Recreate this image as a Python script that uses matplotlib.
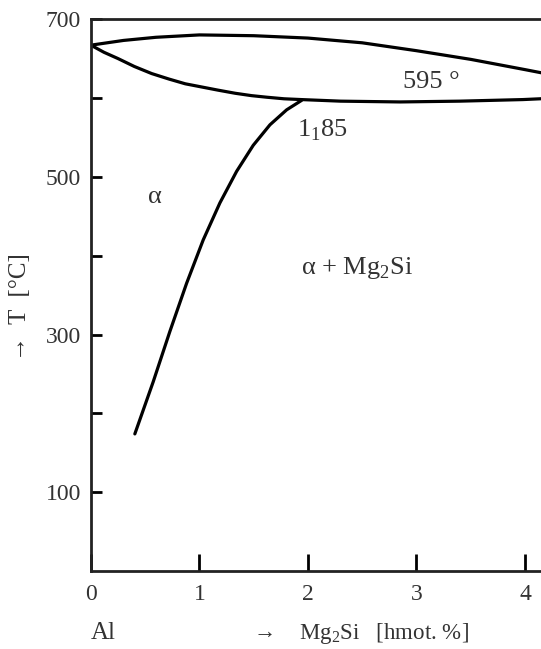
import numpy as np
from matplotlib import pyplot as plt

plt.rcParams['font.family'] = ['Liberation Serif', 'DejaVu Serif']
plt.rcParams['mathtext.fontset'] = 'custom'
plt.rcParams['mathtext.rm'] = 'Liberation Serif'

# liquidus (upper curve)
liq_x = [0, 0.3, 0.6, 1.0, 1.5, 2.0, 2.5, 3.0, 3.5, 4.0, 4.3]
liq_t = [667, 673, 677, 680, 679, 676, 670, 660, 649, 636, 628]

# solidus (lower curve) joining the near-flat line at ~595
sol_x = [0, 0.12, 0.25, 0.4, 0.56, 0.72, 0.87, 1.02, 1.17, 1.33, 1.48, 1.62,
         1.78, 1.94, 2.3, 2.85, 3.4, 3.98, 4.3]
sol_t = [667, 658, 650, 640, 631, 624, 618, 614, 610, 606, 603, 601,
         599, 598, 596, 595, 596, 598, 600]

# solvus
svs_x = [0.405, 0.574, 0.728, 0.882, 1.035, 1.189, 1.343, 1.496, 1.650, 1.804, 1.942]
svs_t = [174, 240, 304, 365, 420, 467, 507, 540, 566, 585, 597]

txt = '#333333'
fig = plt.figure(figsize=(5.41, 6.49), dpi=100)
ax = fig.add_axes([0.168, 0.120, 0.8625, 0.8505])

for xs, ts in [(liq_x, liq_t), (sol_x, sol_t), (svs_x, svs_t)]:
    ax.plot(xs, ts, color='black', lw=2.3, solid_capstyle='round',
            solid_joinstyle='round')

ax.set_xlim(0, 4.3)
ax.set_ylim(0, 700)
ax.set_xticks([0, 1, 2, 3, 4])
ax.set_yticks([100, 300, 500, 700])
ax.set_yticks([200, 400, 600], minor=True)
ax.tick_params(axis='y', which='both', direction='in', length=8, width=2,
               labelsize=17, labelcolor=txt, pad=7)
ax.tick_params(axis='x', direction='in', length=12, width=2,
               labelsize=17, labelcolor=txt, pad=9)
for s in ax.spines.values():
    s.set_linewidth(2)
    s.set_color('#222222')

ax.text(0.59, 475, 'α', fontsize=19, color=txt, ha='center', va='center')
ax.text(2.45, 384, 'α + Mg$_2$Si', fontsize=19, color=txt, ha='center', va='center')
ax.text(2.13, 559, '1$_1$85', fontsize=19, color=txt, ha='center', va='center')
ax.text(3.14, 620, '595 °', fontsize=19, color=txt, ha='center', va='center')

fig.text(0.037, 0.527, '→  T  [°C]', rotation=90, fontsize=18, color=txt,
         ha='center', va='center')
fig.text(0.167, 0.024, 'Al', fontsize=18, color=txt, ha='left', va='center')
fig.text(0.49, 0.024, '→', fontsize=16, color=txt, ha='center', va='center')
fig.text(0.553, 0.024, 'Mg$_2$Si   [hmot. %]', fontsize=16.5, color=txt,
         ha='left', va='center')

plt.savefig('out.png')
